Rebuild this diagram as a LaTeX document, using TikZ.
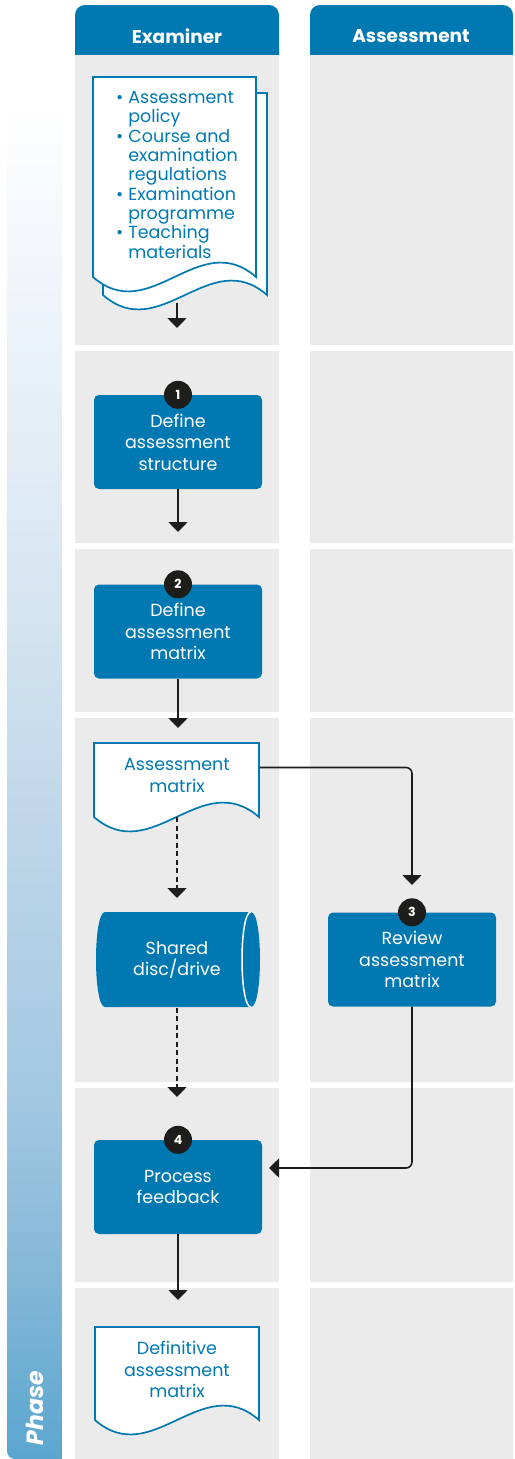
\documentclass[tikz,border=0pt]{standalone}
\usepackage{fontspec}
\setmainfont{Poppins}
\usetikzlibrary{arrows.meta}

\definecolor{laneblue}{HTML}{0079B3}
\definecolor{cellgray}{HTML}{EBEBEB}
\definecolor{ink}{HTML}{1D1D1B}
\definecolor{phaseA}{HTML}{5AA6CF}
\definecolor{phaseB}{HTML}{7FB5D7}
\definecolor{phaseC}{HTML}{A2C8E1}
\definecolor{phaseD}{HTML}{BCD5E8}
\definecolor{phaseE}{HTML}{D6E5F1}
\definecolor{phaseF}{HTML}{EEF4FA}
\pgfdeclareverticalshading{phaseshade}{100bp}{color(0bp)=(phaseA); color(25bp)=(phaseA); color(30.85bp)=(phaseB);
  color(38.2bp)=(phaseC); color(47.4bp)=(phaseD); color(56.6bp)=(phaseE); color(67.6bp)=(phaseF); color(75bp)=(white); color(100bp)=(white)}

\begin{document}
\begin{tikzpicture}[x=1pt,y=-1pt,
    lanehead/.style={text=white, font=\bfseries\fontsize{18.5}{20}\selectfont},
    task/.style={rectangle, rounded corners=5pt, fill=laneblue, text=white, minimum width=168pt, minimum height=94pt, align=center, inner sep=0pt, font=\fontsize{17.5}{21.5}\selectfont},
    badge/.style={circle, fill=ink, text=white, minimum size=28pt, inner sep=0pt, font=\bfseries\fontsize{12.5}{12.5}\selectfont},
    doctext/.style={text=laneblue, align=center, inner sep=0pt, font=\fontsize{17.5}{21.5}\selectfont},
    sheet/.style={draw=laneblue, fill=white, line width=1.7pt},
    flow/.style={draw=ink, line width=1.6pt, -{Triangle[width=19pt,length=10pt]}},
    store/.style={flow, dash pattern=on 5pt off 3.5pt}]
    \useasboundingbox (0,0) rectangle (514,1459);

    % phase bar
    \shade[shading=phaseshade] (7,100) -- (62,100) -- (62,1459) [rounded corners=8pt] -- (7,1459) [sharp corners] -- cycle;
    \node[rotate=90, text=white, font=\bfseries\itshape\fontsize{23.5}{23.5}\selectfont] (phase) at (35,1408) {Phase};

    % lanes
    \fill[laneblue] (75,55) [rounded corners=10pt] -- (75,5) -- (279,5) [sharp corners] -- (279,55) -- cycle;
    \fill[laneblue] (310,55) [rounded corners=10pt] -- (310,5) -- (513,5) [sharp corners] -- (513,55) -- cycle;
    \node[lanehead] (examiner) at (177,36) {Examiner};
    \node[lanehead] (assessment) at (411,36) {Assessment};
    \fill[cellgray] (75,55) rectangle (279,345) (310,55) rectangle (513,345);
    \fill[cellgray] (75,351) rectangle (279,543) (310,351) rectangle (513,543);
    \fill[cellgray] (75,549) rectangle (279,712) (310,549) rectangle (513,712);
    \fill[cellgray] (75,718) rectangle (279,1082) (310,718) rectangle (513,1082);
    \fill[cellgray] (75,1088) rectangle (279,1282) (310,1088) rectangle (513,1282);
    \fill[cellgray] (75,1288) rectangle (279,1459) (310,1288) rectangle (513,1459);

    % sheets and drive
    \draw[sheet] (103,93) -- (267,93) -- (267,295) .. controls (210,245) and (160,345) .. (103,295) -- cycle;
    \draw[sheet] (93,77) -- (256,77) -- (256,277) .. controls (199,227) and (150,327) .. (93,277) -- cycle;
    \draw[sheet] (94,743) -- (259,743) -- (259,817) .. controls (201,767) and (152,867) .. (94,817) -- cycle;
    \draw[sheet] (95,1327) -- (259,1327) -- (259,1420) .. controls (202,1370) and (152,1470) .. (95,1420) -- cycle;
    \fill[laneblue] (105,912) -- (251,912) .. controls (263,912) and (263,1007) .. (251,1007) -- (105,1007) .. controls (93,1007) and (93,912) .. (105,912) -- cycle;
    \draw[white, line width=1.5pt] (251,912) .. controls (239,912) and (239,1007) .. (251,1007);

    \node[doctext, font=\fontsize{17.5}{19.3}\selectfont, minimum width=164pt, minimum height=200pt] (policydoc) at (177,177) {%
      \begin{tabular}{@{}l@{\hspace{5pt}}l@{}}
        \textbullet & Assessment\\ & policy\\
        \textbullet & Course and\\ & examination\\ & regulations\\
        \textbullet & Examination\\ & programme\\
        \textbullet & Teaching\\ & materials
      \end{tabular}};
    \node[task] (structure) at (178,442) {Define\\assessment\\structure};
    \node[badge] (b1) at (structure.north) {1};
    \node[task] (matrixbox) at (178,631.5) {Define\\assessment\\matrix};
    \node[badge] (b2) at (matrixbox.north) {2};
    \node[doctext, minimum width=165pt, minimum height=65pt] (matrixdoc) at (177,775.5) {Assessment\\matrix};
    \node[doctext, text=white, minimum width=166pt, minimum height=95pt] (drive) at (177,960) {Shared\\disc/drive};
    \node[task] (review) at (412,959.5) {Review\\assessment\\matrix};
    \node[badge] (b3) at (review.north) {3};
    \node[task] (process) at (178,1187) {Process\\feedback};
    \node[badge] (b4) at (process.north) {4};
    \node[doctext, minimum width=164pt, minimum height=80pt] (finaldoc) at (177,1369.5) {Definitive\\assessment\\matrix};

    % arrow ends
    \coordinate (t1) at (177,328);
    \coordinate (t2) at (178,532);
    \coordinate (t3) at (178,728);
    \coordinate (t5) at (177,898);
    \coordinate (t6) at (177,1097);
    \coordinate (t7) at (178,1300);
    \coordinate (t8) at (412,885);
    \coordinate (t4) at (269,1168);

    \draw[flow, shorten <=26pt] (policydoc.south) -- (t1);
    \draw[flow] (structure.south) -- (t2);
    \draw[flow] (matrixbox.south) -- (t3);
    \draw[store, shorten <=9pt] (matrixdoc.south) -- (t5);
    \draw[store] (drive.south) -- (t6);
    \draw[flow] (process.south) -- (t7);
    \draw[flow, rounded corners=6pt] ([yshift=8pt]matrixdoc.east) -| (t8);
    \draw[flow, rounded corners=6pt] (review.south) |- (t4);
\end{tikzpicture}
\end{document}
